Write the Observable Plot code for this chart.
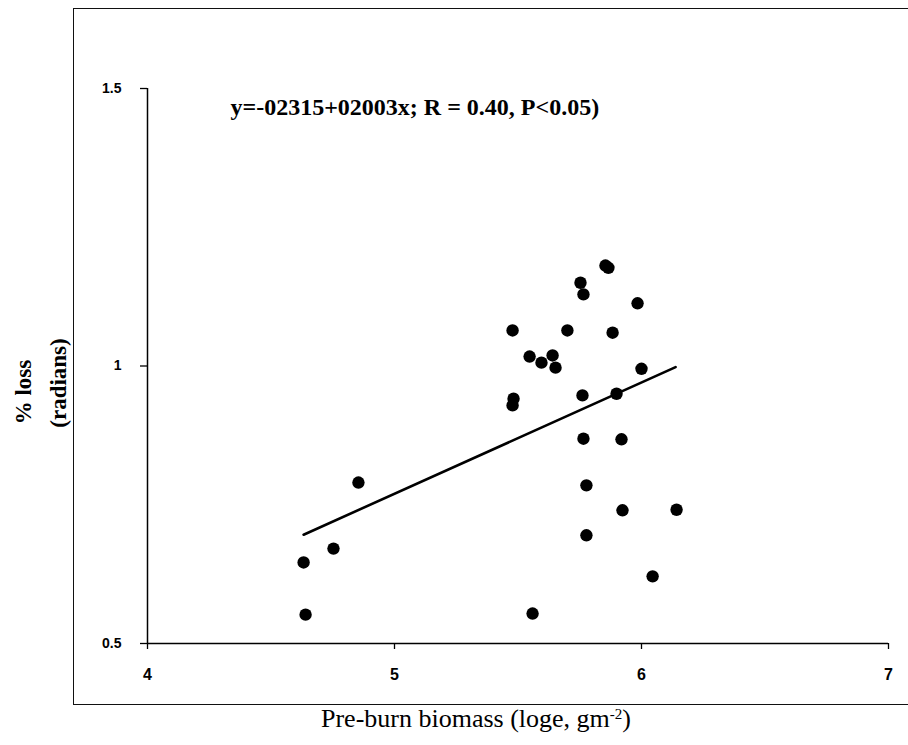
<!DOCTYPE html>
<html>
<head>
<meta charset="utf-8">
<script src="https://cdn.jsdelivr.net/npm/d3@7"></script>
<script src="https://cdn.jsdelivr.net/npm/@observablehq/plot@0.6"></script>
<style>
  html, body { margin: 0; padding: 0; background: #fff; }
  #wrap { position: relative; width: 908px; height: 745px; overflow: hidden; background: #fff; }
  #frame { position: absolute; left: 73px; top: 8px; width: 900px; height: 697px; border: 1.3px solid #111; box-sizing: border-box; }
  #chart { position: absolute; left: 0; top: 0; }
  .ytitle { position: absolute; font-family: "Liberation Serif", "Times New Roman", serif; font-weight: bold; font-size: 23px; line-height: 1; white-space: nowrap; color: #000; transform: translate(-50%, -50%) rotate(-90deg); }
  #xtitle { position: absolute; left: 176px; width: 600px; top: 706px; text-align: center; font-family: "Liberation Serif", "Times New Roman", serif; font-size: 26px; line-height: 1; white-space: nowrap; color: #000; }
  #xtitle sup { font-size: 15px; vertical-align: 0.55em; line-height: 0; }
  svg text { fill: #000; }
</style>
</head>
<body>
<div id="wrap">
  <div id="frame"></div>
  <div id="chart"></div>
  <div class="ytitle" id="yt1" style="left:23px; top:392px;">% loss</div>
  <div class="ytitle" id="yt2" style="left:58px; top:383px;">(radians)</div>
  <div id="xtitle">Pre-burn biomass (loge, gm<sup>-2</sup>)</div>
</div>
<script>
// Pre-burn biomass (loge, gm-2) of each plot
const biomass = [4.632, 4.640, 4.753, 4.854, 5.478, 5.482, 5.478, 5.547, 5.595, 5.640,
                 5.652, 5.559, 5.700, 5.753, 5.765, 5.761, 5.765, 5.777, 5.777, 5.854,
                 5.866, 5.883, 5.899, 5.919, 5.923, 5.984, 6.000, 6.045, 6.142];
// % loss (radians)
const loss = [0.646, 0.552, 0.671, 0.790, 1.064, 0.941, 0.929, 1.017, 1.006, 1.019,
              0.997, 0.554, 1.064, 1.150, 1.129, 0.947, 0.869, 0.785, 0.695, 1.181,
              1.177, 1.060, 0.950, 0.868, 0.740, 1.113, 0.995, 0.621, 0.741];
// regression line end points
const fitX = [4.632, 6.138];
const fitY = [0.696, 0.998];
const equationText = "y=-02315+02003x; R = 0.40, P<0.05)";
const equationPos = [4.336, 1.466];
const xTicks = [4, 5, 6, 7];
const xTickLabels = ["4", "5", "6", "7"];
const yTicks = [0.5, 1, 1.5];
const yTickLabels = ["0.5", "1", "1.5"];

const points = biomass.map((b, i) => ({x: b, y: loss[i]}));
const fit = fitX.map((x, i) => ({x, y: fitY[i]}));
const sans = "Liberation Sans, Arial, sans-serif";

const chart = Plot.plot({
  width: 908,
  height: 745,
  marginLeft: 147,
  marginRight: 20,
  marginTop: 88,
  marginBottom: 102,
  style: {background: "transparent", color: "#000", overflow: "visible"},
  x: {domain: [4, 7]},
  y: {domain: [0.5, 1.5]},
  marks: [
    Plot.axisX({ticks: xTicks, tickFormat: () => "", tickSize: 6, label: null, strokeWidth: 1.3}),
    Plot.axisY({ticks: yTicks, tickFormat: () => "", tickSize: 7, label: null, strokeWidth: 1.3}),
    Plot.text(xTicks, {x: d => d, y: () => 0.5, text: d => xTickLabels[xTicks.indexOf(d)], dy: 31,
                       lineAnchor: "middle", textAnchor: "middle", fontSize: 16, fontWeight: "bold", fontFamily: sans, fill: "#000"}),
    Plot.text(yTicks, {x: () => 4, y: d => d, text: d => yTickLabels[yTicks.indexOf(d)], dx: -26,
                       lineAnchor: "middle", textAnchor: "end", fontSize: 14, fontWeight: "bold", fontFamily: sans, fill: "#000"}),
    Plot.ruleX([4], {y1: 0.5, y2: 1.5, stroke: "#000", strokeWidth: 1.5}),
    Plot.ruleY([0.5], {x1: 4, x2: 7, stroke: "#000", strokeWidth: 1.5}),
    Plot.line(fit, {x: "x", y: "y", stroke: "#000", strokeWidth: 2.6}),
    Plot.dot(points, {x: "x", y: "y", r: 6.2, fill: "#000", stroke: "none"}),
    Plot.text([equationText], {x: () => equationPos[0], y: () => equationPos[1], text: d => d,
               textAnchor: "start", lineAnchor: "middle", fontSize: 24, fontWeight: "bold",
               fontFamily: "Liberation Serif, Times New Roman, serif", fill: "#000"})
  ]
});
document.getElementById("chart").appendChild(chart);
</script>
</body>
</html>
